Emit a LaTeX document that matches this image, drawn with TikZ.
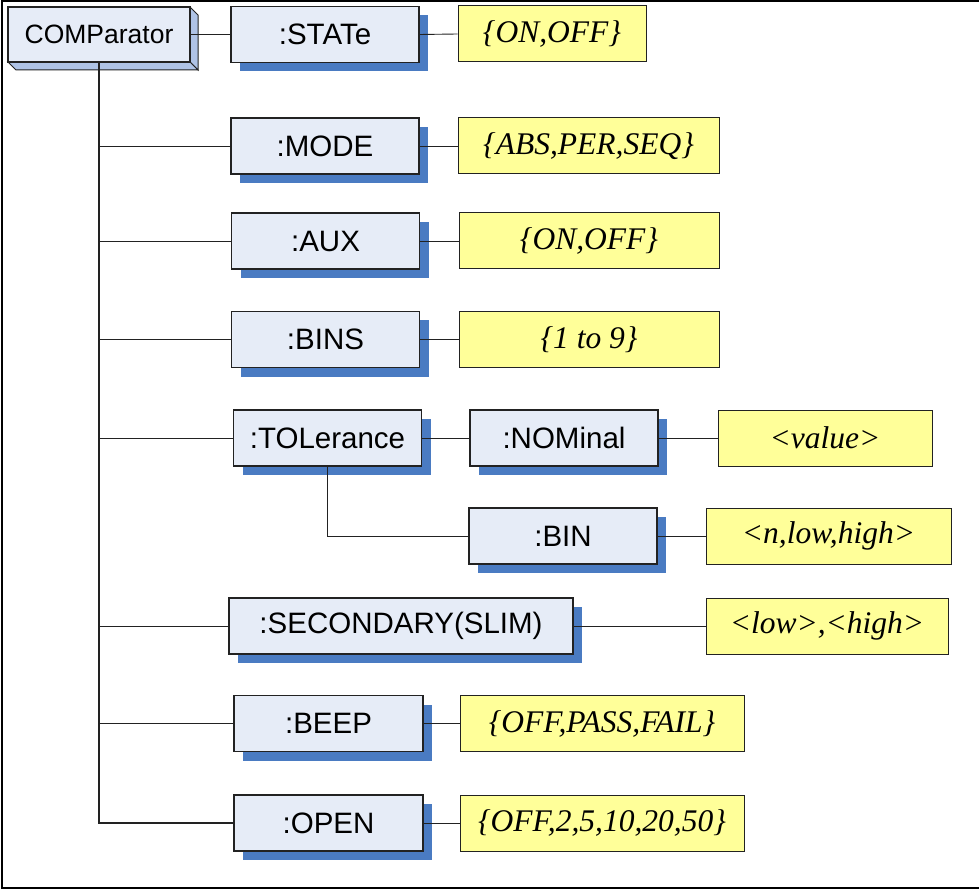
\documentclass[tikz,border=0pt]{standalone}
\usepackage{fontspec}
\setmainfont{Liberation Serif}
\setsansfont{Liberation Sans}
\usetikzlibrary{shadows}
\definecolor{boxfill}{HTML}{E6ECF7}
\definecolor{sidefill}{HTML}{AFC3E6}
\definecolor{shblue}{HTML}{4A7BC2}
\definecolor{yel}{HTML}{FFFF99}
\definecolor{edge}{HTML}{222222}
\begin{document}
\begin{tikzpicture}[x=1pt,y=-1pt,
  cmd/.style={draw=edge, line width=1.2pt, fill=boxfill, inner sep=0pt,
    minimum width=188pt, minimum height=56pt,
    font=\sffamily\fontsize{29.5}{32}\selectfont,
    drop shadow={shadow xshift=9pt, shadow yshift=-9pt, fill=shblue, opacity=1}},
  val/.style={draw=edge, line width=1pt, fill=yel, inner sep=0pt,
    minimum height=56pt, font=\itshape\fontsize{31.5}{34}\selectfont},
  root/.style={draw=edge, line width=1.2pt, fill=boxfill, inner sep=0pt,
    minimum width=182pt, minimum height=55pt,
    font=\sffamily\fontsize{26.5}{29}\selectfont},
  link/.style={draw=edge, line width=0.9pt}]
\useasboundingbox (0,0) rectangle (979,890);
\draw[line width=2.5pt] (979,1) -- (2,1) -- (2,888) -- (979,888);
% 3D root box
\fill[sidefill, draw=edge, line width=1pt] (190,7) -- (198,15) -- (198,70) -- (190,62) -- cycle;
\fill[sidefill, draw=edge, line width=1pt] (8,62) -- (190,62) -- (198,70) -- (16,70) -- cycle;
\node[root] (comp) at (99,34.5) {COMParator};
% command boxes
\node[cmd] (state) at (325,34.5) {:STATe};
\node[cmd] (mode) at (325,146) {:MODE};
\node[cmd] (aux) at (325.5,241) {:AUX};
\node[cmd] (bins) at (325.5,339.5) {:BINS};
\node[cmd] (tol) at (327.5,438) {:TOLerance};
\node[cmd] (nom) at (564,438) {:NOMinal};
\node[cmd] (bin) at (563,536) {:BIN};
\node[cmd, minimum width=344pt] (sec) at (401,626) {:SECONDARY(SLIM)};
\node[cmd, minimum width=189pt] (beep) at (328.5,723.5) {:BEEP};
\node[cmd, minimum width=189pt] (open) at (328.5,823) {:OPEN};
% value boxes
\node[val, minimum width=188pt] (vstate) at (552,34) {\{ON,OFF\}};
\node[val, minimum width=261pt] (vmode) at (588.5,146) {\{ABS,PER,SEQ\}};
\node[val, minimum width=260pt] (vaux) at (589,241) {\{ON,OFF\}};
\node[val, minimum width=260pt] (vbins) at (589,339.5) {\{1 to 9\}};
\node[val, minimum width=214pt] (vnom) at (825,438) {<value>};
\node[val, minimum width=245pt] (vbin) at (828.5,536) {<n,low,high>};
\node[val, minimum width=242pt] (vsec) at (827,626) {<low>,<high>};
\node[val, minimum width=284pt] (vbeep) at (602,723.5) {\{OFF,PASS,FAIL\}};
\node[val, minimum width=284pt] (vopen) at (602,823) {\{OFF,2,5,10,20,50\}};
% connectors
\draw[link] (comp.east) -- (state.west);
\draw[link, line width=1.3pt] (comp.south) -- (comp.south |- open.west) -- (open.west);
\foreach \n in {mode,aux,bins,tol,sec,beep}
  \draw[link] (comp.south |- \n.west) -- (\n.west);
\draw[link] (tol.east) -- (nom.west);
\draw[link] (tol.south) |- (bin.west);
\draw[link] (state.east) -- (vstate.west);
\draw[link] (mode.east) -- (vmode.west);
\draw[link] (aux.east) -- (vaux.west);
\draw[link] (bins.east) -- (vbins.west);
\draw[link] (nom.east) -- (vnom.west);
\draw[link] (bin.east) -- (vbin.west);
\draw[link] (sec.east) -- (vsec.west);
\draw[link] (beep.east) -- (vbeep.west);
\draw[link] (open.east) -- (vopen.west);
\end{tikzpicture}
\end{document}
